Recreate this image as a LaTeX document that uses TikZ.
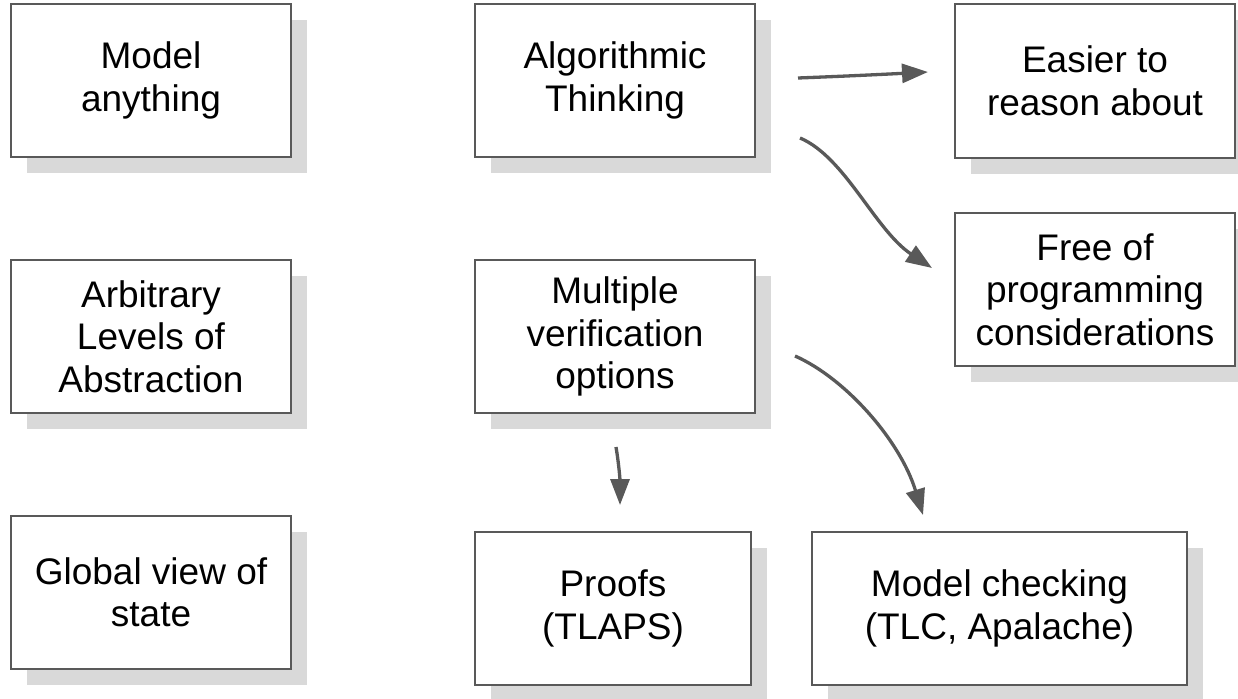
\documentclass[tikz,border=0pt]{standalone}
\usepackage{fontspec}
\setmainfont{Liberation Sans}
\usetikzlibrary{arrows.meta,shadows}
\definecolor{edgegray}{RGB}{89,89,89}
\definecolor{shadowgray}{RGB}{217,217,217}
\tikzset{
  box/.style={draw=edgegray, line width=2pt, fill=white, rectangle,
    minimum width=280pt, minimum height=153pt, inner sep=0pt,
    align=center, font=\fontsize{37}{42.5}\selectfont,
    drop shadow={shadow xshift=16pt, shadow yshift=-16pt,
      fill=shadowgray, opacity=1}},
  link/.style={draw=edgegray, line width=3.3pt,
    -{Triangle[length=26pt,width=19pt]}}
}
\begin{document}
\begin{tikzpicture}[x=1pt,y=-1pt]
\useasboundingbox (0,0) rectangle (1238,698);

% left column
\node[box] (model)  at (151,80.5)  {Model\\anything};
\node[box] (levels) at (151,336.5) {Arbitrary\\Levels of\\Abstraction};
\node[box] (global) at (151,592.5) {Global view of\\state};

% middle column
\node[box] (algo)   at (615,80.5)  {Algorithmic\\Thinking};
\node[box] (multi)  at (615,336.5) {Multiple\\verification\\options};
\node[box, minimum width=276pt] (proofs) at (613,608.5) {Proofs\\(TLAPS)};
\node[box, minimum width=375pt] (mc) at (999.5,608.5) {Model checking\\(TLC, Apalache)};

% right column
\node[box] (easier) at (1095,81)    {Easier to\\reason about};
\node[box] (free)   at (1095,289.5) {Free of\\programming\\considerations};

% free-floating connector ends
\coordinate (a1s) at (798,78);   \coordinate (a1e) at (928,72);
\coordinate (a2s) at (800,138);  \coordinate (a2e) at (932,268);
\coordinate (a3s) at (795,356);  \coordinate (a3e) at (923,515);
\coordinate (a4s) at (616,447);  \coordinate (a4e) at (620,505);

\draw[link] (a1s) .. controls (850,76) and (890,74) .. (a1e);
\draw[link] (a2s) .. controls (845,157) and (875,230) .. (a2e);
\draw[link] (a3s) .. controls (845,378) and (900,440) .. (a3e);
\draw[link] (a4s) .. controls (619,465) and (620,480) .. (a4e);
\end{tikzpicture}
\end{document}
